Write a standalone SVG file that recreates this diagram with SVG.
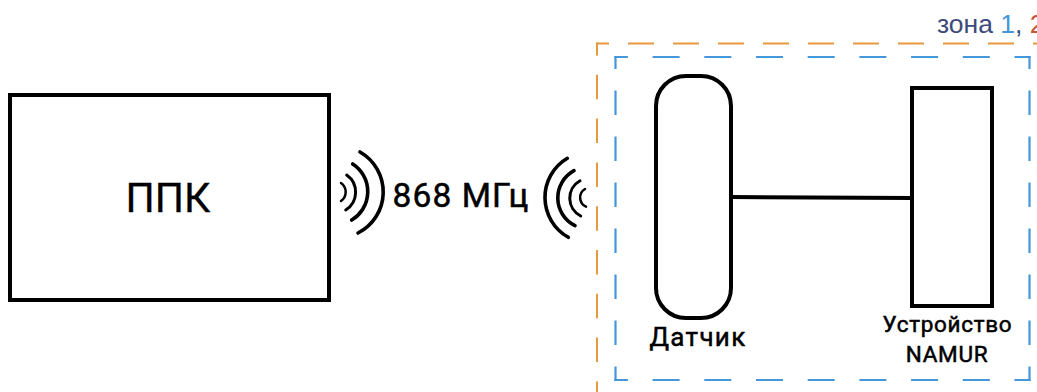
<svg xmlns="http://www.w3.org/2000/svg" width="1037" height="392" viewBox="0 0 1037 392">
<style>
.box{fill:#fff;stroke:#000;stroke-width:4}
.wave{fill:none;stroke:#000;stroke-width:3.6;stroke-linecap:round}
.lbl{font-family:Roboto,"Noto Sans",sans-serif;font-weight:400;fill:#000;stroke:#000;stroke-width:0.500;text-anchor:middle}
.zone{font-family:"Liberation Sans",Arial,sans-serif;font-size:26.500px}
.oh{fill:none;stroke:#e8983f;stroke-width:2;stroke-dasharray:26 19;stroke-dashoffset:13}
.ov{fill:none;stroke:#e8983f;stroke-width:2;stroke-dasharray:24.500 19.300;stroke-dashoffset:11.500}
.bh{fill:none;stroke:#4596da;stroke-width:2.200;stroke-dasharray:27 24.700;stroke-dashoffset:13.500}
.bv{fill:none;stroke:#4596da;stroke-width:2.200;stroke-dasharray:24.500 21.500;stroke-dashoffset:11.500}
</style>
<rect width="1037" height="392" fill="#fff"/>
<g id="zones">
<path class="oh" d="M596 43.500H1037"/>
<path class="ov" d="M597 42.500V392"/>
<path class="bh" d="M614.400 57H1030.600"/>
<path class="bh" d="M614.400 380H1030.600"/>
<path class="bv" d="M615.500 56V381"/>
<path class="bv" d="M1029.500 56V381"/>
</g>
<g id="zone-label" class="zone"><text x="937" y="33"><tspan fill="#3c4a7c">зона </tspan><tspan fill="#4596da">1</tspan><tspan fill="#3c4a7c">, </tspan><tspan fill="#c0583a">2</tspan></text></g>
<g id="ppk"><rect class="box" x="10" y="95" width="319" height="205"/><text class="lbl" x="168" y="212" font-size="41" style="stroke-width:0.300">ППК</text></g>
<g id="sensor"><rect class="box" x="656" y="76" width="75" height="242" rx="30"/><text class="lbl" x="698" y="346" font-size="26" letter-spacing="1.300">Датчик</text></g>
<g id="namur"><rect class="box" x="912" y="88" width="80" height="218"/><text class="lbl" x="947.500" y="332" font-size="22.500" letter-spacing="0.700">Устройство</text><text class="lbl" x="947" y="362" font-size="22.500" letter-spacing="0.700">NAMUR</text></g>
<g id="connectors"><path d="M731 197L912 198" fill="none" stroke="#000" stroke-width="4"/></g>
<g id="wave-left">
<path class="wave" d="M360 152A46 46 0 0 1 358 233"/>
<path class="wave" d="M352.700 164A33 33 0 0 1 351.700 220"/>
<path class="wave" d="M346.700 175A21 21 0 0 1 345.700 210" style="stroke-width:3"/>
<path class="wave" d="M341 183A11 11 0 0 1 341 201" style="stroke-width:2.500"/>
</g>
<g id="wave-right">
<path class="wave" d="M567.300 158.300A45.600 45.600 0 0 0 568.300 237.300"/>
<path class="wave" d="M574 170.700A31 31 0 0 0 575 225.700"/>
<path class="wave" d="M580 180.700A20 20 0 0 0 580.700 216" style="stroke-width:3"/>
<path class="wave" d="M585 189A10 10 0 0 0 586 206.700" style="stroke-width:2.500"/>
</g>
<g id="freq"><text class="lbl" x="461" y="207" font-size="33.500" letter-spacing="1.100">868 МГц</text></g>
</svg>
